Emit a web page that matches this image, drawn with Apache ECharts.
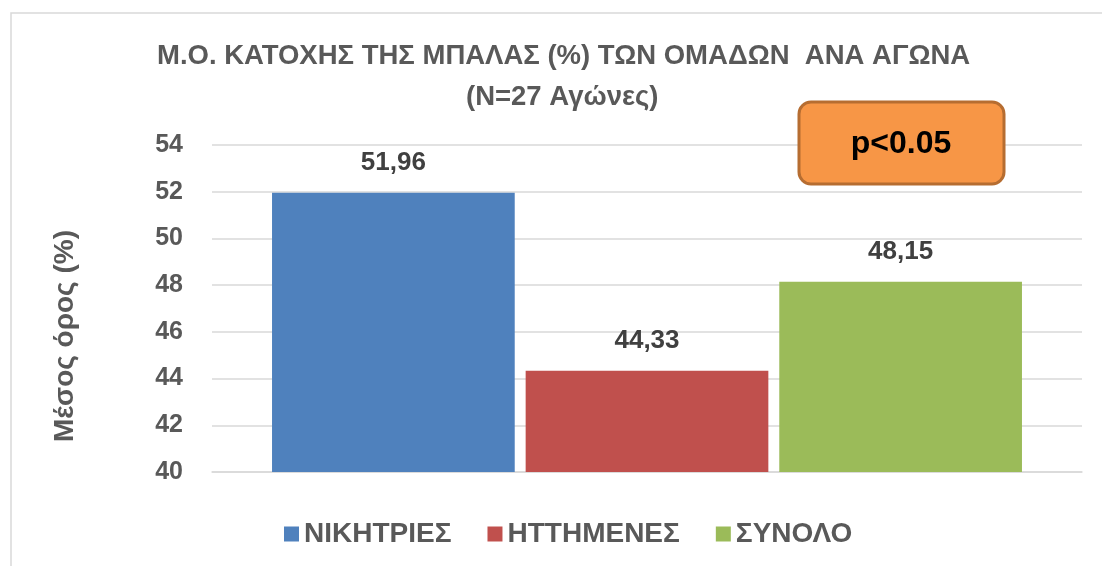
<!DOCTYPE html>
<html>
<head>
<meta charset="utf-8">
<script src="https://cdn.jsdelivr.net/npm/echarts@6/dist/echarts.min.js"></script>
<style>html,body{margin:0;padding:0;background:#fff}#c{width:1102px;height:566px}</style>
</head>
<body>
<div id="c"></div>
<script>
var seriesNames = ['ΝΙΚΗΤΡΙΕΣ', 'ΗΤΤΗΜΕΝΕΣ', 'ΣΥΝΟΛΟ'];
var seriesValues = [51.96, 44.33, 48.15];
var seriesColors = ['#4F81BD', '#C0504D', '#9BBB59'];
var categories = [''];
var yTicks = {min: 40, max: 54, interval: 2};
var titleLines = ['Μ.Ο. ΚΑΤΟΧΗΣ ΤΗΣ ΜΠΑΛΑΣ (%) ΤΩΝ ΟΜΑΔΩΝ  ΑΝΑ ΑΓΩΝΑ', '(N=27 Αγώνες)'];
var yAxisName = 'Μέσος όρος (%)';
var noteText = 'p<0.05';

var FONT = '"Liberation Sans", Arial, sans-serif';
var chart = echarts.init(document.getElementById('c'));
var series = seriesNames.map(function (n, i) {
  return {
    name: n, type: 'bar', data: [seriesValues[i]],
    itemStyle: {color: seriesColors[i]},
    barGap: '4.5%', barCategoryGap: '13.8%',
    label: {show: true, position: 'top', distance: 17,
      fontFamily: FONT, fontSize: 26, fontWeight: 'bold', color: '#404040',
      formatter: function (p) { return p.value.toFixed(2).replace('.', ','); }}
  };
});
chart.setOption({
  backgroundColor: '#fff',
  animation: false,
  title: [
    {text: titleLines[0], left: 157, top: 42, padding: 0,
      textStyle: {fontFamily: FONT, fontSize: 27.5, fontWeight: 'bold', color: '#595959'}},
    {text: titleLines[1], left: 466, top: 83, padding: 0,
      textStyle: {fontFamily: FONT, fontSize: 27.5, fontWeight: 'bold', color: '#595959'}}
  ],
  legend: {
    data: seriesNames, left: 284, top: 520, padding: 0, itemWidth: 15, itemHeight: 15, itemGap: 36,
    icon: 'rect',
    textStyle: {fontFamily: FONT, fontSize: 28, fontWeight: 'bold', color: '#595959', padding: [0,0,0,0]}
  },
  grid: {left: 212, right: 20, top: 145, bottom: 94},
  xAxis: {type: 'category', data: categories,
    axisLine: {show: true, lineStyle: {color: '#d9d9d9', width: 1.5}},
    axisTick: {show: false}, axisLabel: {show: false}},
  yAxis: {type: 'value', min: yTicks.min, max: yTicks.max, interval: yTicks.interval,
    axisLine: {show: false}, axisTick: {show: false},
    axisLabel: {fontFamily: FONT, fontSize: 25, fontWeight: 'bold', color: '#595959', margin: 29},
    splitLine: {lineStyle: {color: '#d9d9d9', width: 1.5}}},
  series: series,
  graphic: [
    {type: 'rect', shape: {x: 11, y: 13, width: 1200, height: 700},
      style: {fill: 'none', stroke: '#d9d9d9', lineWidth: 1.5}, silent: true, z: -1},
    {type: 'text', x: 65, y: 336, rotation: Math.PI / 2, z: 10,
      style: {text: yAxisName, fontFamily: FONT, fontSize: 28, fontWeight: 'bold', fill: '#595959',
        align: 'center', verticalAlign: 'middle'}},
    {type: 'rect', shape: {x: 799, y: 102, width: 205, height: 82, r: 12},
      style: {fill: '#F79646', stroke: '#B66D31', lineWidth: 3}, z: 100},
    {type: 'text', x: 901, y: 144, z: 101,
      style: {text: noteText, fontFamily: FONT, fontSize: 32, fontWeight: 'bold', fill: '#000',
        align: 'center', verticalAlign: 'middle'}}
  ]
});
</script>
</body>
</html>
